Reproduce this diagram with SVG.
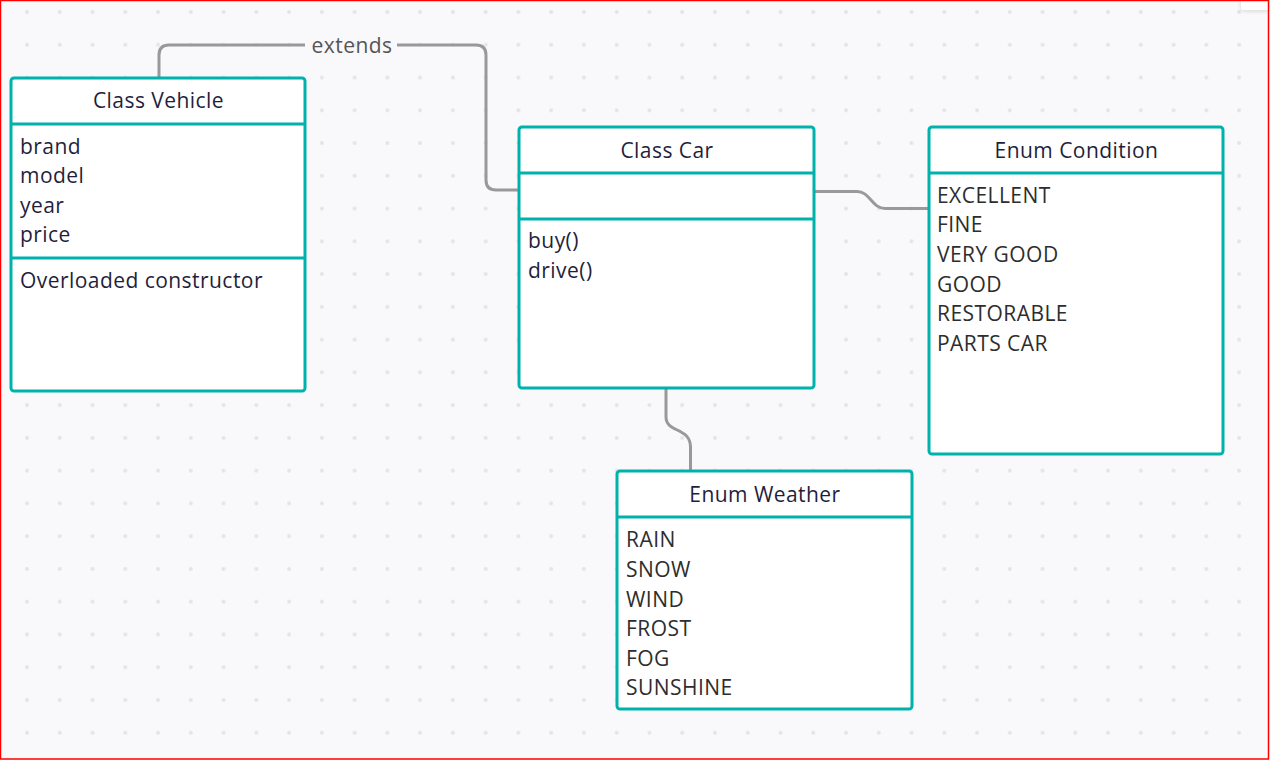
<svg xmlns="http://www.w3.org/2000/svg" width="1270" height="760" viewBox="0 0 1270 760">
<defs>
<pattern id="dots" x="27" y="12" width="32.76" height="32.76" patternUnits="userSpaceOnUse">
<circle cx="0" cy="0" r="2" fill="#e4e4e8"/>
<circle cx="32.76" cy="0" r="2" fill="#e4e4e8"/>
<circle cx="0" cy="32.76" r="2" fill="#e4e4e8"/>
<circle cx="32.76" cy="32.76" r="2" fill="#e4e4e8"/>
</pattern>
<filter id="sh" x="-50%" y="-50%" width="200%" height="200%"><feDropShadow dx="0" dy="1" stdDeviation="2" flood-color="#000" flood-opacity="0.15"/></filter>
<style>
.box{fill:#ffffff;stroke:#00b2ac;stroke-width:3}
.div{stroke:#00b2ac;stroke-width:3}
.title{font-family:"Open Sans","Noto Sans",sans-serif;font-size:21px;letter-spacing:0.45px;fill:#1f1f3d;text-anchor:middle}
.attr{font-family:"Open Sans","Noto Sans",sans-serif;font-size:21px;letter-spacing:0.45px;fill:#1f1f3d}
.item{font-family:"Open Sans","Noto Sans",sans-serif;font-size:21px;letter-spacing:0.45px;fill:#2d2d2d}
.conn{fill:none;stroke:#999999;stroke-width:3}
.lbl{font-family:"Open Sans","Noto Sans",sans-serif;font-size:21px;letter-spacing:0.45px;fill:#555555;text-anchor:middle}
</style>
</defs>
<rect x="0" y="0" width="1270" height="760" fill="#f9f9fb"/>
<rect x="0" y="0" width="1270" height="760" fill="url(#dots)"/>
<rect x="1241" y="-4" width="28" height="14" rx="3" fill="#ffffff" filter="url(#sh)"/>

<g id="connectors">
<path class="conn" d="M159,78 V55 Q159,45 169,45 H305"/>
<path class="conn" d="M397,45 H476 Q486,45 486,55 V180 Q486,190 496,190 H519"/>
<text class="lbl" x="352" y="52.5">extends</text>
<path class="conn" d="M814,191.5 H857 C870,191.5 872,208.5 885,208.5 H929"/>
<path class="conn" d="M666,388 V417 C666,433 690.5,427 690.5,447 V471"/>
</g>

<g id="vehicle">
<rect class="box" x="11" y="78" width="294" height="313" rx="3"/>
<line class="div" x1="11" y1="124" x2="305" y2="124"/>
<line class="div" x1="11" y1="258" x2="305" y2="258"/>
<text class="title" x="158.5" y="108">Class Vehicle</text>
<text class="attr" x="20" y="153.5">brand</text>
<text class="attr" x="20" y="183">model</text>
<text class="attr" x="20" y="212.7">year</text>
<text class="attr" x="20" y="242.3">price</text>
<text class="attr" x="20" y="288.3">Overloaded constructor</text>
</g>

<g id="car">
<rect class="box" x="519" y="127" width="295" height="261" rx="3"/>
<line class="div" x1="519" y1="173" x2="814" y2="173"/>
<line class="div" x1="519" y1="219" x2="814" y2="219"/>
<text class="title" x="667" y="157.5">Class Car</text>
<text class="attr" x="528" y="248.3">buy()</text>
<text class="attr" x="528" y="278">drive()</text>
</g>

<g id="condition">
<rect class="box" x="929" y="127" width="294" height="327" rx="3"/>
<line class="div" x1="929" y1="173" x2="1223" y2="173"/>
<text class="title" x="1076.5" y="157.5">Enum Condition</text>
<text class="item" x="937" y="202.7">EXCELLENT</text>
<text class="item" x="937" y="232.3">FINE</text>
<text class="item" x="937" y="261.9">VERY GOOD</text>
<text class="item" x="937" y="291.5">GOOD</text>
<text class="item" x="937" y="321.1">RESTORABLE</text>
<text class="item" x="937" y="350.7">PARTS CAR</text>
</g>

<g id="weather">
<rect class="box" x="617" y="471" width="295" height="238" rx="3"/>
<line class="div" x1="617" y1="517" x2="912" y2="517"/>
<text class="title" x="765" y="501.5">Enum Weather</text>
<text class="item" x="626" y="547.3">RAIN</text>
<text class="item" x="626" y="576.9">SNOW</text>
<text class="item" x="626" y="606.5">WIND</text>
<text class="item" x="626" y="636.1">FROST</text>
<text class="item" x="626" y="665.7">FOG</text>
<text class="item" x="626" y="695.3">SUNSHINE</text>
</g>

<rect x="0.5" y="0.5" width="1268" height="758.5" fill="none" stroke="#ff0000" stroke-width="1.5"/>
</svg>
